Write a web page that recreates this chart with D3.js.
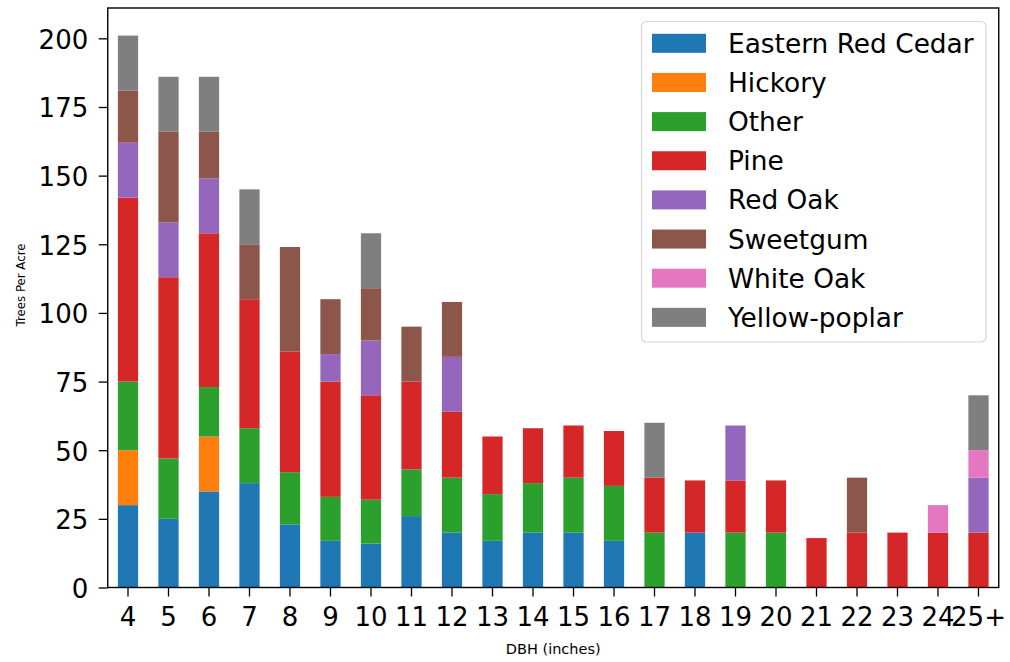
<!DOCTYPE html>
<html>
<head>
<meta charset="utf-8">
<script src="https://cdn.jsdelivr.net/npm/d3@7"></script>
<style>
  body { margin: 0; background: #fff; }
  svg { display: block; font-family: "DejaVu Sans", sans-serif; }
</style>
</head>
<body>
<div id="chart"></div>
<script>
// DBH classes (inches)
const categories = ['4', '5', '6', '7', '8', '9', '10', '11', '12', '13', '14', '15',
  '16', '17', '18', '19', '20', '21', '22', '23', '24', '25+'];

// trees per acre by species, one value per DBH class
const easternRedCedar = [30, 25, 35, 38, 23, 17, 16, 26, 20, 17, 20, 20, 17, 0, 20, 0, 0, 0, 0, 0, 0, 0];
const hickory = [20, 0, 20, 0, 0, 0, 0, 0, 0, 0, 0, 0, 0, 0, 0, 0, 0, 0, 0, 0, 0, 0];
const other = [25, 22, 18, 20, 19, 16, 16, 17, 20, 17, 18, 20, 20, 20, 0, 20, 20, 0, 0, 0, 0, 0];
const pine = [67, 66, 56, 47, 44, 42, 38, 32, 24, 21, 20, 19, 20, 20, 19, 19, 19, 18, 20, 20, 20, 20];
const redOak = [20, 20, 20, 0, 0, 10, 20, 0, 20, 0, 0, 0, 0, 0, 0, 20, 0, 0, 0, 0, 0, 20];
const sweetgum = [19, 33, 17, 20, 38, 20, 19, 20, 20, 0, 0, 0, 0, 0, 0, 0, 0, 0, 20, 0, 0, 0];
const whiteOak = [0, 0, 0, 0, 0, 0, 0, 0, 0, 0, 0, 0, 0, 0, 0, 0, 0, 0, 0, 0, 10, 10];
const yellowPoplar = [20, 20, 20, 20, 0, 0, 20, 0, 0, 0, 0, 0, 0, 20, 0, 0, 0, 0, 0, 0, 0, 20];

const species = ['Eastern Red Cedar', 'Hickory', 'Other', 'Pine', 'Red Oak',
  'Sweetgum', 'White Oak', 'Yellow-poplar'];
const seriesValues = [easternRedCedar, hickory, other, pine, redOak, sweetgum, whiteOak, yellowPoplar];
const yTicks = [0, 25, 50, 75, 100, 125, 150, 175, 200];

const colors = ['#1f77b4', '#ff7f0e', '#2ca02c', '#d62728', '#9467bd', '#8c564b', '#e377c2', '#7f7f7f'];

const W = 1010, H = 662;
const margin = { top: 8, right: 11.25, bottom: 74.5, left: 107.75 };
const width = W - margin.left - margin.right;
const height = H - margin.top - margin.bottom;

// rows for d3.stack
const table = categories.map((c, i) => {
  const row = { dbh: c };
  species.forEach((s, j) => { row[s] = seriesValues[j][i]; });
  return row;
});

const stacked = d3.stack().keys(species)(table);
const maxTotal = d3.max(table, (r) => d3.sum(species, (s) => r[s]));

const x = d3.scaleBand()
  .domain(categories)
  .range([0, width])
  .paddingInner(0.5)
  .paddingOuter(0.25);

const y = d3.scaleLinear()
  .domain([0, maxTotal * 1.05])
  .range([height, 0]);

const color = d3.scaleOrdinal().domain(species).range(colors);

const svg = d3.select('#chart')
  .append('svg')
  .attr('width', W)
  .attr('height', H);

const g = svg.append('g')
  .attr('transform', 'translate(' + margin.left + ',' + margin.top + ')');

// bars
g.append('g')
  .selectAll('g')
  .data(stacked)
  .join('g')
  .attr('fill', (d) => color(d.key))
  .selectAll('rect')
  .data((d) => d.filter((p) => p[1] - p[0] > 0))
  .join('rect')
  .attr('x', (d) => x(d.data.dbh))
  .attr('width', x.bandwidth())
  .attr('y', (d) => y(d[1]))
  .attr('height', (d) => y(d[0]) - y(d[1]));

// axes
const xAxis = g.append('g')
  .attr('transform', 'translate(0,' + height + ')')
  .call(d3.axisBottom(x).tickSize(9).tickPadding(11).tickSizeOuter(0));

const yAxis = g.append('g')
  .call(d3.axisLeft(y).tickValues(yTicks).tickSize(9).tickPadding(10.5).tickSizeOuter(0));

[xAxis, yAxis].forEach((ax) => {
  ax.select('.domain').remove();
  ax.selectAll('.tick line').attr('stroke', '#000').attr('stroke-width', 1.3);
  ax.selectAll('.tick text')
    .attr('fill', '#000')
    .style('font-family', '"DejaVu Sans", sans-serif')
    .style('font-size', '26px');
});
yAxis.selectAll('.tick text').attr('dy', '0.38em');

// frame
g.append('rect')
  .attr('width', width)
  .attr('height', height)
  .attr('fill', 'none')
  .attr('stroke', '#000')
  .attr('stroke-width', 1.4);

// axis labels
svg.append('text')
  .attr('x', margin.left + width / 2)
  .attr('y', 654)
  .attr('text-anchor', 'middle')
  .style('font-size', '14.5px')
  .text('DBH (inches)');

svg.append('text')
  .attr('transform', 'translate(25,285) rotate(-90)')
  .attr('text-anchor', 'middle')
  .attr('textLength', 83)
  .attr('lengthAdjust', 'spacingAndGlyphs')
  .style('font-size', '12.5px')
  .text('Trees Per Acre');

// legend
const legend = svg.append('g');
legend.append('rect')
  .attr('x', 641.5)
  .attr('y', 21.5)
  .attr('width', 344.5)
  .attr('height', 320.5)
  .attr('rx', 5)
  .attr('fill', '#fff')
  .attr('fill-opacity', 0.8)
  .attr('stroke', '#d6d6d6')
  .attr('stroke-width', 1.2);

const items = legend.selectAll('g.item')
  .data(species)
  .join('g')
  .attr('class', 'item')
  .attr('transform', (d, i) => 'translate(0,' + (43.3 + i * 39.15) + ')');

items.append('rect')
  .attr('x', 652)
  .attr('y', -9.5)
  .attr('width', 54)
  .attr('height', 19)
  .attr('fill', (d) => color(d));

items.append('text')
  .attr('x', 728)
  .attr('y', 9.5)
  .style('font-size', '26.4px')
  .attr('fill', '#000')
  .text((d) => d);
</script>
</body>
</html>
